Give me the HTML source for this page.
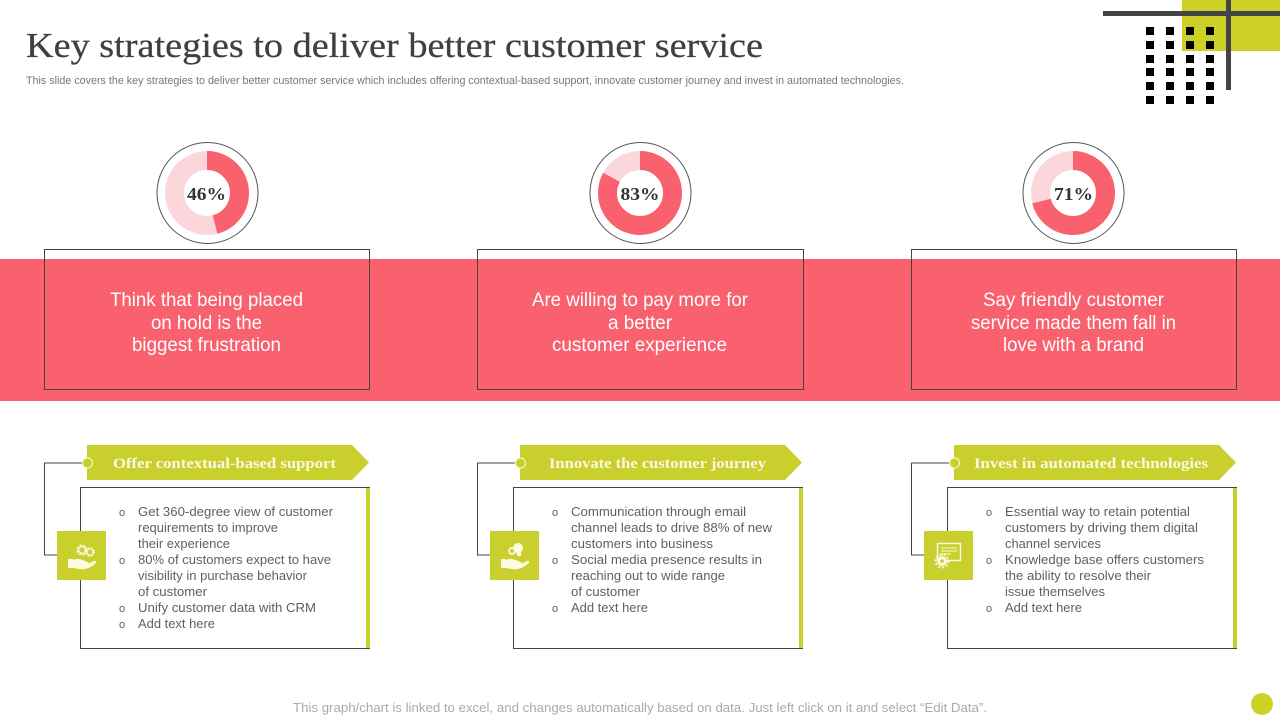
<!DOCTYPE html>
<html>
<head>
<meta charset="utf-8">
<style>
html,body{margin:0;padding:0;background:#fff;width:1280px;height:720px;overflow:hidden}
svg{display:block}
.sans{font-family:"Liberation Sans",sans-serif}
.serif{font-family:"Liberation Serif",serif}
.b{font-family:"Liberation Sans",sans-serif;font-size:12.800px;fill:#606060}
.o{font-family:"Liberation Sans",sans-serif;font-size:11px;fill:#606060}
.w{font-family:"Liberation Sans",sans-serif;font-size:19.500px;fill:#fff}
.h{font-family:"Liberation Serif",serif;font-size:14.800px;font-weight:bold;fill:#FBFBE2}
.p{font-family:"Liberation Serif",serif;font-size:17.500px;font-weight:bold;fill:#333}
</style>
</head>
<body>
<svg width="1280" height="720" viewBox="0 0 1280 720" xmlns="http://www.w3.org/2000/svg">
<defs>
  <g id="dots" fill="#000">
    <rect x="0" y="0" width="8" height="8"/><rect x="20" y="0" width="8" height="8"/><rect x="40" y="0" width="8" height="8"/><rect x="60" y="0" width="8" height="8"/>
  </g>
  <g id="frame">
    <path d="M87 445H352L369 462.500L352 480H87Z" fill="#C9CF2C"/>
    <path d="M82 463H44.500V555H57" fill="none" stroke="#444" stroke-width="1"/>
    <circle cx="87.500" cy="463" r="5" fill="#C9CF2C" stroke="#F3F5C0" stroke-width="1.200"/>
    <rect x="366" y="487" width="4" height="162" fill="#C9CF2C"/>
    <path d="M80.500 531V487.500H370M80.500 580V648.500H370" fill="none" stroke="#444" stroke-width="1"/>
    <rect x="57" y="531" width="49" height="49" fill="#C9CF2C"/>
  </g>
  <path id="hand" d="M68 559h5v1c4-2 8-1 12 1l3 1c1 1 0 2-2 2h-6 7l7-3c2-1 3 1 1 3-5 4-10 6-16 5l-6-1h-5z" fill="#FBFBE2"/>
</defs>

<!-- top right decoration -->
<rect x="1182" y="0" width="98" height="51" fill="#CDD125"/>
<rect x="1103" y="11" width="177" height="5" fill="#444"/>
<rect x="1226" y="0" width="5" height="90" fill="#444"/>
<use href="#dots" x="1146" y="27"/>
<use href="#dots" x="1146" y="41"/>
<use href="#dots" x="1146" y="55"/>
<use href="#dots" x="1146" y="68"/>
<use href="#dots" x="1146" y="82"/>
<use href="#dots" x="1146" y="96"/>

<!-- title -->
<text class="serif" x="26" y="57" font-size="35" fill="#404040" stroke="#404040" stroke-width="0.250" textLength="737" lengthAdjust="spacingAndGlyphs">Key strategies to deliver better customer service</text>
<text class="sans" x="26" y="84" font-size="10.600" fill="#777" textLength="878" lengthAdjust="spacingAndGlyphs">This slide covers the key strategies to deliver better customer service which includes offering contextual-based support, innovate customer journey and invest in automated technologies.</text>

<!-- band -->
<rect x="0" y="259" width="1280" height="142" fill="#F9616F"/>

<!-- outlined boxes -->
<rect x="44.500" y="249.500" width="325" height="140" fill="none" stroke="#444"/>
<rect x="477.500" y="249.500" width="326" height="140" fill="none" stroke="#444"/>
<rect x="911.500" y="249.500" width="325" height="140" fill="none" stroke="#444"/>

<!-- donuts -->
<g fill="none">
  <circle cx="207.500" cy="193" r="50.500" stroke="#555" stroke-width="1"/>
  <circle cx="207" cy="193" r="32.500" stroke="#FBD7DB" stroke-width="19"/>
  <circle cx="207" cy="193" r="32.500" stroke="#F9616F" stroke-width="19" pathLength="100" stroke-dasharray="46 54" transform="rotate(-90 207 193)"/>

  <circle cx="640.500" cy="193" r="50.500" stroke="#555" stroke-width="1"/>
  <circle cx="640" cy="193" r="32.500" stroke="#FBD7DB" stroke-width="19"/>
  <circle cx="640" cy="193" r="32.500" stroke="#F9616F" stroke-width="19" pathLength="100" stroke-dasharray="83 17" transform="rotate(-90 640 193)"/>

  <circle cx="1073.500" cy="193" r="50.500" stroke="#555" stroke-width="1"/>
  <circle cx="1073" cy="193" r="32.500" stroke="#FBD7DB" stroke-width="19"/>
  <circle cx="1073" cy="193" r="32.500" stroke="#F9616F" stroke-width="19" pathLength="100" stroke-dasharray="71 29" transform="rotate(-90 1073 193)"/>
</g>
<text class="p" x="187" y="200" textLength="39" lengthAdjust="spacingAndGlyphs">46%</text>
<text class="p" x="620.500" y="200" textLength="39" lengthAdjust="spacingAndGlyphs">83%</text>
<text class="p" x="1054" y="200" textLength="39" lengthAdjust="spacingAndGlyphs">71%</text>

<!-- band text -->
<text class="w" x="110" y="306" textLength="193" lengthAdjust="spacingAndGlyphs">Think that being placed</text>
<text class="w" x="151" y="329" textLength="111" lengthAdjust="spacingAndGlyphs">on hold is the</text>
<text class="w" x="132" y="351" textLength="149" lengthAdjust="spacingAndGlyphs">biggest frustration</text>

<text class="w" x="532" y="306" textLength="216" lengthAdjust="spacingAndGlyphs">Are willing to pay more for</text>
<text class="w" x="608" y="329" textLength="64" lengthAdjust="spacingAndGlyphs">a better</text>
<text class="w" x="552" y="351" textLength="175" lengthAdjust="spacingAndGlyphs">customer experience</text>

<text class="w" x="983" y="306" textLength="181" lengthAdjust="spacingAndGlyphs">Say friendly customer</text>
<text class="w" x="971" y="329" textLength="205" lengthAdjust="spacingAndGlyphs">service made them fall in</text>
<text class="w" x="1003" y="351" textLength="141" lengthAdjust="spacingAndGlyphs">love with a brand</text>

<!-- bottom frames -->
<use href="#frame"/>
<use href="#frame" x="433"/>
<use href="#frame" x="867"/>

<text class="h" x="113" y="468" textLength="223" lengthAdjust="spacingAndGlyphs">Offer contextual-based support</text>
<text class="h" x="549" y="468" textLength="217" lengthAdjust="spacingAndGlyphs">Innovate the customer journey</text>
<text class="h" x="974" y="468" textLength="234" lengthAdjust="spacingAndGlyphs">Invest in automated technologies</text>

<!-- icon 1 -->
<circle cx="82" cy="550" r="4" fill="none" stroke="#FBFBE2" stroke-width="3" stroke-dasharray="2.500 0.800"/>
<circle cx="90" cy="552" r="3.500" fill="none" stroke="#FBFBE2" stroke-width="2.500" stroke-dasharray="2 0.800"/>
<use href="#hand"/>
<!-- icon 2 -->
<circle cx="518" cy="548" r="5" fill="#FBFBE2"/>
<circle cx="512" cy="551" r="3" fill="none" stroke="#FBFBE2" stroke-width="1.800"/>
<circle cx="519" cy="554" r="2.500" fill="#FBFBE2"/>
<use href="#hand" x="433"/>
<!-- icon 3 -->
<rect x="937.500" y="543.500" width="23" height="17" fill="none" stroke="#FBFBE2" stroke-width="1.500"/>
<path d="M941 548h16M941 551h16M941 554h10" stroke="#FBFBE2" stroke-width="1"/>
<circle cx="942" cy="561" r="5" fill="#FBFBE2"/>
<circle cx="942" cy="561" r="6.500" fill="none" stroke="#FBFBE2" stroke-width="2" stroke-dasharray="2 2"/>
<circle cx="942" cy="561" r="1.800" fill="#C9CF2C"/>

<!-- lists col 1 -->
<g>
<text class="o" x="119" y="516">o</text><text class="b" x="138" y="516" textLength="195" lengthAdjust="spacingAndGlyphs">Get 360-degree view of customer</text>
<text class="b" x="138" y="532" textLength="140" lengthAdjust="spacingAndGlyphs">requirements to improve</text>
<text class="b" x="138" y="548" textLength="92" lengthAdjust="spacingAndGlyphs">their experience</text>
<text class="o" x="119" y="564">o</text><text class="b" x="138" y="564" textLength="193" lengthAdjust="spacingAndGlyphs">80% of customers expect to have</text>
<text class="b" x="138" y="580" textLength="169" lengthAdjust="spacingAndGlyphs">visibility in purchase behavior</text>
<text class="b" x="138" y="596" textLength="69" lengthAdjust="spacingAndGlyphs">of customer</text>
<text class="o" x="119" y="612">o</text><text class="b" x="138" y="612" textLength="178" lengthAdjust="spacingAndGlyphs">Unify customer data with CRM</text>
<text class="o" x="119" y="628">o</text><text class="b" x="138" y="628" textLength="77" lengthAdjust="spacingAndGlyphs">Add text here</text>
</g>
<!-- lists col 2 -->
<g>
<text class="o" x="552" y="516">o</text><text class="b" x="571" y="516" textLength="175" lengthAdjust="spacingAndGlyphs">Communication through email</text>
<text class="b" x="571" y="532" textLength="201" lengthAdjust="spacingAndGlyphs">channel leads to drive 88% of new</text>
<text class="b" x="571" y="548" textLength="142" lengthAdjust="spacingAndGlyphs">customers into business</text>
<text class="o" x="552" y="564">o</text><text class="b" x="571" y="564" textLength="191" lengthAdjust="spacingAndGlyphs">Social media presence results in</text>
<text class="b" x="571" y="580" textLength="154" lengthAdjust="spacingAndGlyphs">reaching out to wide range</text>
<text class="b" x="571" y="596" textLength="69" lengthAdjust="spacingAndGlyphs">of customer</text>
<text class="o" x="552" y="612">o</text><text class="b" x="571" y="612" textLength="77" lengthAdjust="spacingAndGlyphs">Add text here</text>
</g>
<!-- lists col 3 -->
<g>
<text class="o" x="986" y="516">o</text><text class="b" x="1005" y="516" textLength="185" lengthAdjust="spacingAndGlyphs">Essential way to retain potential</text>
<text class="b" x="1005" y="532" textLength="193" lengthAdjust="spacingAndGlyphs">customers by driving them digital</text>
<text class="b" x="1005" y="548" textLength="96" lengthAdjust="spacingAndGlyphs">channel services</text>
<text class="o" x="986" y="564">o</text><text class="b" x="1005" y="564" textLength="199" lengthAdjust="spacingAndGlyphs">Knowledge base offers customers</text>
<text class="b" x="1005" y="580" textLength="146" lengthAdjust="spacingAndGlyphs">the ability to resolve their</text>
<text class="b" x="1005" y="596" textLength="100" lengthAdjust="spacingAndGlyphs">issue themselves</text>
<text class="o" x="986" y="612">o</text><text class="b" x="1005" y="612" textLength="77" lengthAdjust="spacingAndGlyphs">Add text here</text>
</g>

<!-- footer -->
<text class="sans" x="293" y="712" font-size="12.800" fill="#AAAAAA" textLength="694" lengthAdjust="spacingAndGlyphs">This graph/chart is linked to excel, and changes automatically based on data. Just left click on it and select “Edit Data”.</text>
<circle cx="1262" cy="704" r="11" fill="#CDD125"/>
</svg>
</body>
</html>
